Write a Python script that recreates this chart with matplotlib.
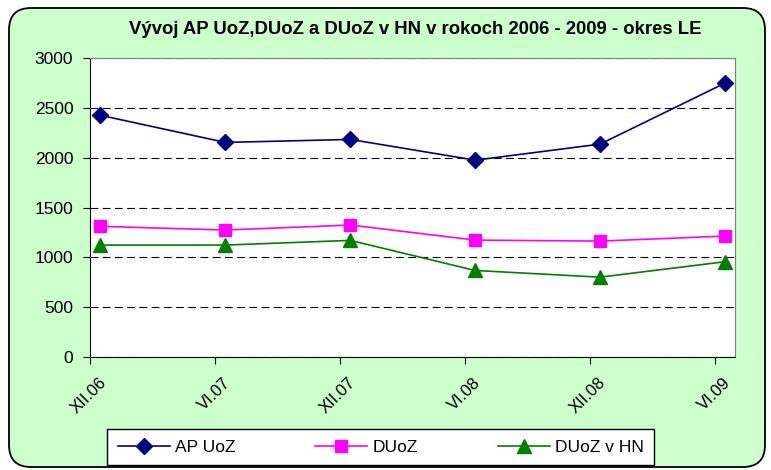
import matplotlib
matplotlib.use('Agg')
import matplotlib.pyplot as plt
import matplotlib.patches as mpatches
from matplotlib.transforms import IdentityTransform, ScaledTranslation

plt.rcParams['font.family'] = ['Liberation Sans', 'DejaVu Sans']

labels = ['XII.06', 'VI.07', 'XII.07', 'VI.08', 'XII.08', 'VI.09']
ap_uoz = [2425, 2153, 2183, 1975, 2136, 2748]
duoz = [1311, 1274, 1324, 1173, 1163, 1213]
duoz_hn = [1123, 1123, 1170, 868, 801, 956]

fig = plt.figure(figsize=(7.71, 4.70), dpi=100)
fig.patch.set_facecolor('white')

# rounded green frame
frame = mpatches.FancyBboxPatch((9, 3), 756, 459, boxstyle='round,pad=0,rounding_size=22',
                                transform=IdentityTransform(), facecolor='#CCFFCC',
                                edgecolor='black', lw=1.3, zorder=-10)
fig.patches.append(frame)

ax = fig.add_axes([90 / 771, 1 - 357 / 470, 645 / 771, 299 / 470])
ax.set_facecolor('white')

x = list(range(len(labels)))
ax.plot(x, ap_uoz, color='#000080', marker='D', markersize=8, lw=1.2, label='AP UoZ', clip_on=False, zorder=3)
ax.plot(x, duoz, color='#FF00FF', marker='s', markersize=8.5, lw=1.2, label='DUoZ', clip_on=False, zorder=3)
ax.plot(x, duoz_hn, color='#008000', marker='^', markersize=10, lw=1.2, label='DUoZ v HN', clip_on=False, zorder=3)

# ticks sit a little left of the points (Excel date-axis look)
off = 0.084
ax.set_xlim(-off, 5.08)
ax.set_ylim(0, 3000)
ax.set_yticks(range(0, 3001, 500))
ax.set_xticks([i - off for i in x])
ax.set_xticklabels(labels, rotation=45, ha='right', rotation_mode='anchor', fontsize=12)
ax.tick_params(axis='y', labelsize=12.5, length=5, direction='out', pad=7)
ax.tick_params(axis='x', length=5, direction='out', pad=5)
shift = ScaledTranslation(6 / 72, -3 / 72, fig.dpi_scale_trans)
for lab in ax.get_xticklabels():
    lab.set_transform(lab.get_transform() + shift)

ax.grid(axis='y', color='black', linestyle=(0, (7, 4)), lw=0.8)
ax.set_axisbelow(True)
for s in ['top', 'right']:
    ax.spines[s].set_color('#808080')
ax.spines['left'].set_color('black')
ax.spines['bottom'].set_color('black')

fig.text(0.539, 0.938, 'Vývoj AP UoZ,DUoZ a DUoZ v HN v rokoch 2006 - 2009 - okres LE',
         ha='center', va='center', fontsize=13.3, fontweight='bold')

leg = fig.legend(loc='center', bbox_to_anchor=(0.494, 0.048), ncol=3, frameon=True,
                 fancybox=False, edgecolor='black', facecolor='white', framealpha=1,
                 fontsize=12.5, columnspacing=4.6, handlelength=3, handletextpad=0.3,
                 borderpad=0.6, borderaxespad=0)
leg.get_frame().set_linewidth(1.0)

fig.savefig('out.png', dpi=100, facecolor=fig.get_facecolor())
